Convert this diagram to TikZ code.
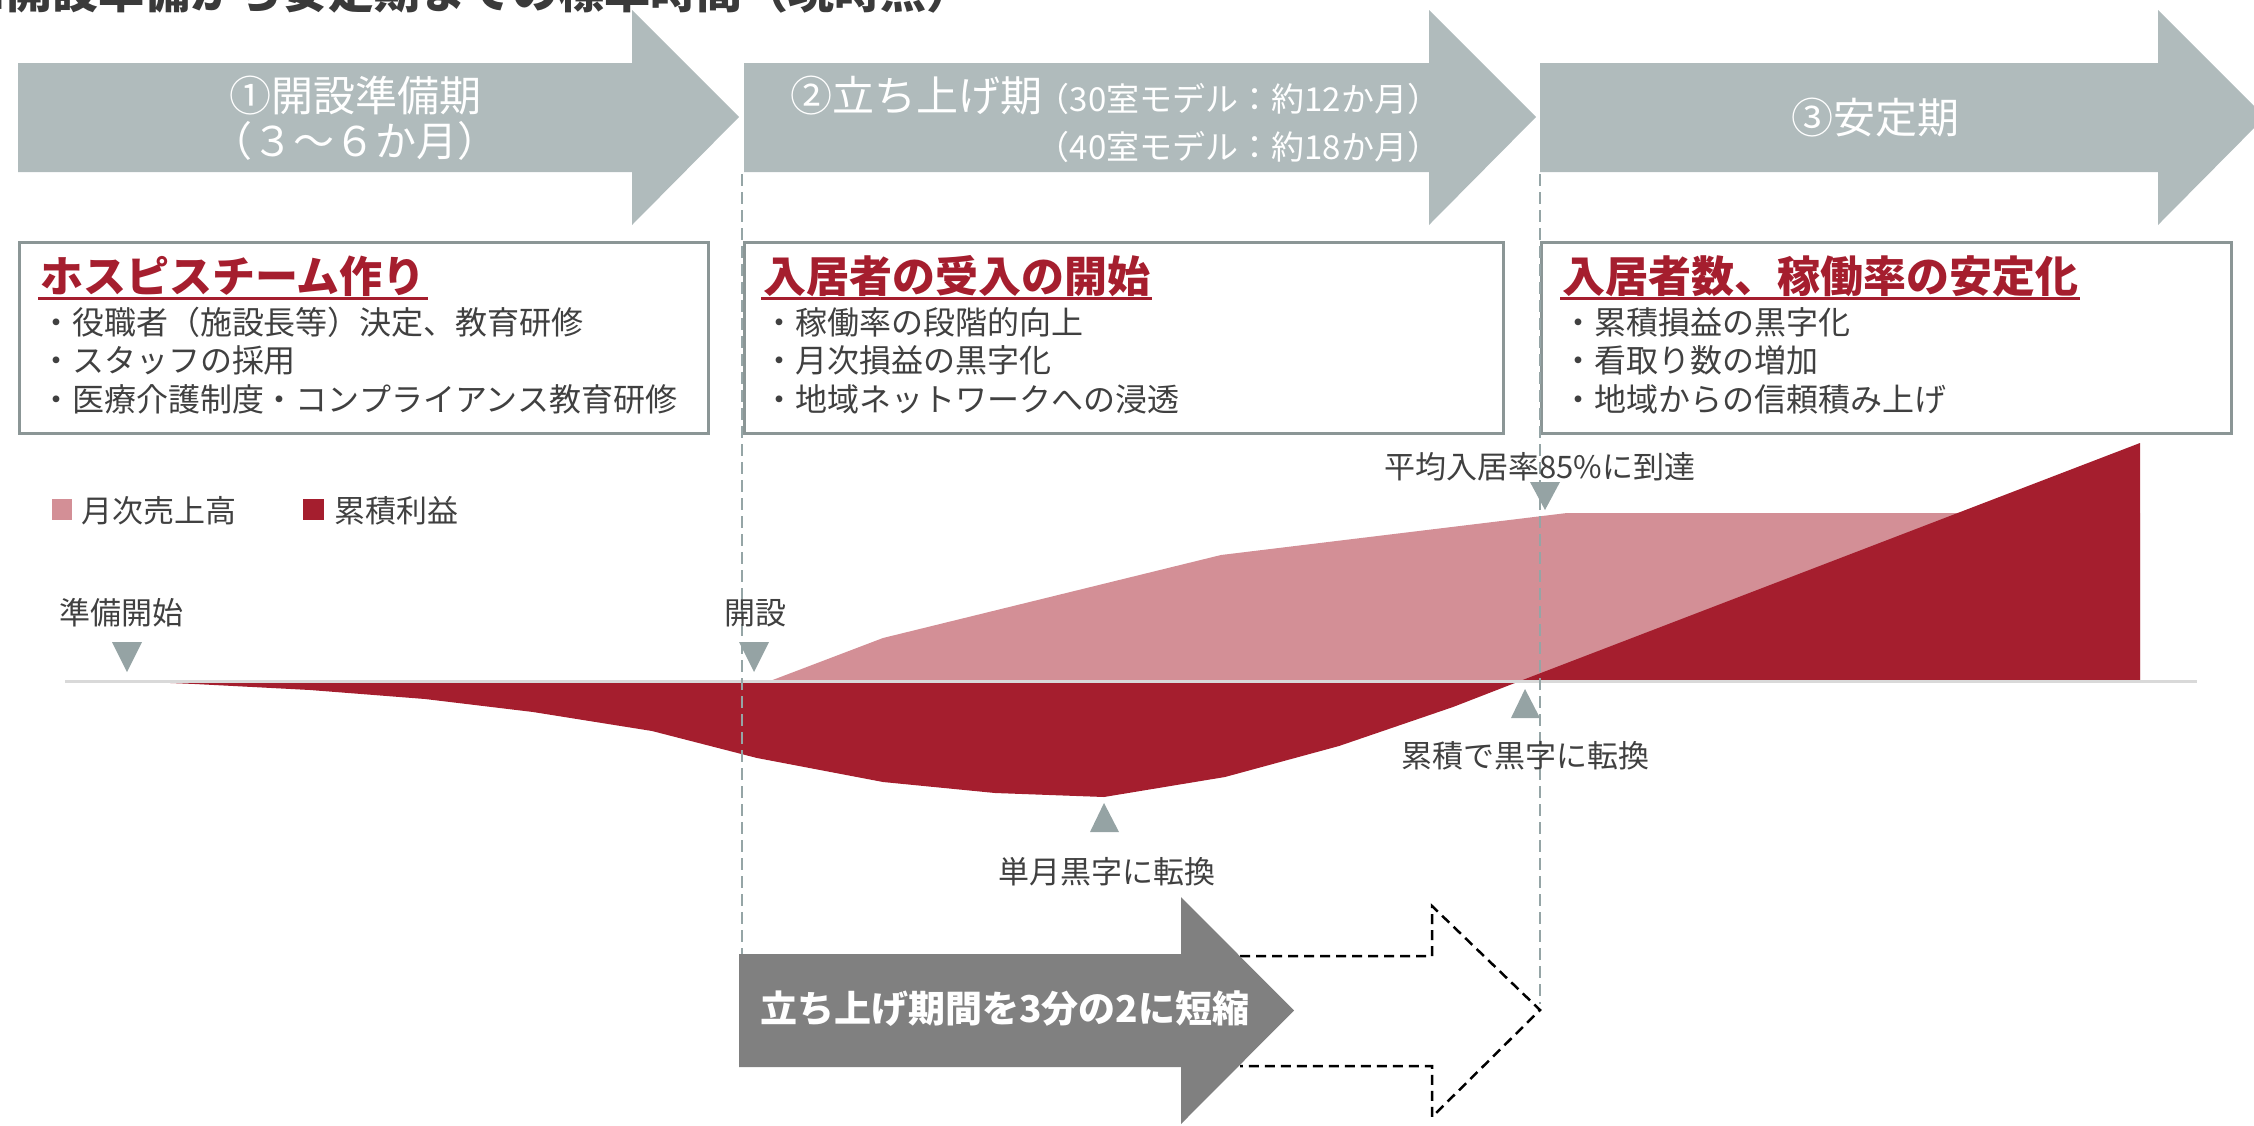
\documentclass[tikz,border=0pt]{standalone}
\usepackage{fontspec}
\setmainfont{Noto Sans CJK JP}
\usetikzlibrary{calc}
\definecolor{arrowgray}{RGB}{176,187,188}
\definecolor{boxborder}{RGB}{139,150,150}
\definecolor{accentred}{RGB}{165,30,46}
\definecolor{salespink}{RGB}{211,143,150}
\definecolor{trigray}{RGB}{149,163,164}
\definecolor{textgray}{RGB}{64,64,64}
\definecolor{titlegray}{RGB}{58,58,58}
\definecolor{darkarrow}{RGB}{128,128,128}
\definecolor{axisgray}{RGB}{217,217,217}
\definecolor{dashgray}{RGB}{149,165,166}
\begin{document}
\begin{tikzpicture}[x=1pt,y=-1pt,
  every node/.style={inner sep=0pt,outer sep=0pt},
  hdrbig/.style={text=white,font=\fontsize{42}{50}\selectfont},
  hdrsmall/.style={text=white,font=\fontsize{33}{40}\selectfont},
  boxtitle/.style={anchor=base west,text=accentred,font=\fontsize{43}{50}\selectfont\bfseries},
  itemtext/.style={anchor=base west,text=textgray,font=\fontsize{32}{38}\selectfont},
  labeltext/.style={anchor=base,text=textgray,font=\fontsize{31}{38}\selectfont},
  ulinestyle/.style={draw=accentred,line width=3pt},
  panel/.style={draw=boxborder,line width=3pt},
  marker/.style={fill=trigray},
  vdash/.style={draw=dashgray,line width=2pt,dash pattern=on 12pt off 6pt},
  outlinearrow/.style={draw=black,line width=2.5pt,dash pattern=on 10pt off 6pt,line join=miter}]
\useasboundingbox (0,0) rectangle (2254,1125);

% title (cut at top)
\node[anchor=base west,text=titlegray,font=\fontsize{46}{52}\selectfont\bfseries] (title) at (-39,8) {■開設準備から安定期までの標準時間（現時点）};

% phase arrows
\fill[arrowgray] (18,63) -- (632,63) -- (632,10) -- (739,117) -- (632,225) -- (632,172) -- (18,172) -- cycle;
\fill[arrowgray] (744,63) -- (1429,63) -- (1429,10) -- (1536,117) -- (1429,225) -- (1429,172) -- (744,172) -- cycle;
\fill[arrowgray] (1540,63) -- (2158,63) -- (2158,10) -- (2265,117) -- (2158,225) -- (2158,172) -- (1540,172) -- cycle;

\node[hdrbig,anchor=base] (p1a) at (355,111) {①開設準備期};
\node[hdrbig,anchor=base,font=\fontsize{41}{50}\selectfont] (p1b) at (355,156) {（３～６か月）};
\node[hdrbig,anchor=base west] (p2a) at (790,111) {②立ち上げ期};
\node[hdrsmall,anchor=base east] (p2b) at (1440,111) {（30室モデル：約12か月）};
\node[hdrsmall,anchor=base east] (p2c) at (1440,159) {（40室モデル：約18か月）};
\node[hdrbig,anchor=base] (p3a) at (1875,133) {③安定期};

% description boxes
\draw[panel] (19,242) rectangle (708,433);
\draw[panel] (744,242) rectangle (1503,433);
\draw[panel] (1541,242) rectangle (2231,433);

\node[boxtitle] (bt1) at (40,292) {ホスピスチーム作り};
\draw[ulinestyle] ($(bt1.base west)+(-2,6)$) -- ($(bt1.base east)+(2,6)$);
\node[itemtext] (b1a) at (40,334) {・役職者（施設長等）決定、教育研修};
\node[itemtext] (b1b) at (40,372) {・スタッフの採用};
\node[itemtext] (b1c) at (40,411) {・医療介護制度・コンプライアンス教育研修};

\node[boxtitle] (bt2) at (763,292) {入居者の受入の開始};
\draw[ulinestyle] ($(bt2.base west)+(-2,6)$) -- ($(bt2.base east)+(2,6)$);
\node[itemtext] (b2a) at (763,334) {・稼働率の段階的向上};
\node[itemtext] (b2b) at (763,372) {・月次損益の黒字化};
\node[itemtext] (b2c) at (763,411) {・地域ネットワークへの浸透};

\node[boxtitle] (bt3) at (1562,292) {入居者数、稼働率の安定化};
\draw[ulinestyle] ($(bt3.base west)+(-2,6)$) -- ($(bt3.base east)+(2,6)$);
\node[itemtext] (b3a) at (1562,334) {・累積損益の黒字化};
\node[itemtext] (b3b) at (1562,372) {・看取り数の増加};
\node[itemtext] (b3c) at (1562,411) {・地域からの信頼積み上げ};

% legend
\fill[salespink] (52,499) rectangle (72,520);
\node[labeltext,anchor=base west] (lg1) at (81,522) {月次売上高};
\fill[accentred] (303,499) rectangle (324,520);
\node[labeltext,anchor=base west] (lg2) at (334,522) {累積利益};

% chart areas
\fill[salespink] (770,681) -- (883,638) -- (1221,555) -- (1567,513) -- (2140,513) -- (2140,681) -- cycle;
\fill[accentred] (122,681) -- (195,684) -- (310,690) -- (425,699) -- (533,712) -- (652,731) -- (757,758) -- (883,782) -- (995,793) -- (1104,797) -- (1225,777) -- (1339,746) -- (1453,707) -- (1520,681) -- (2140,443) -- (2140,681) -- cycle;
\draw[axisgray,line width=3pt] (65,681) -- (2197,681);

% dashed guides
\draw[vdash] (742,174) -- (742,1000);
\draw[vdash] (1540,174) -- (1540,1004);

% markers and labels
\node[labeltext] (m1) at (121,624) {準備開始};
\fill[marker] (112,642) -- (142,642) -- (127,672) -- cycle;
\node[labeltext] (m2) at (755,624) {開設};
\fill[marker] (739,642) -- (769,642) -- (754,672) -- cycle;
\node[labeltext] (m3) at (1540,478) {平均入居率85\%に到達};
\fill[marker] (1530,482) -- (1560,482) -- (1545,510) -- cycle;
\node[labeltext] (m4) at (1525,767) {累積で黒字に転換};
\fill[marker] (1511,718) -- (1540,718) -- (1525,689) -- cycle;
\node[labeltext] (m5) at (1107,883) {単月黒字に転換};
\fill[marker] (1090,832) -- (1119,832) -- (1104,803) -- cycle;

% shortening arrows
\draw[outlinearrow] (1240,956) -- (1432,956) -- (1432,906) -- (1540,1010) -- (1432,1117) -- (1432,1066) -- (1240,1066);
\fill[darkarrow] (739,954) -- (1181,954) -- (1181,897) -- (1294,1010.5) -- (1181,1124) -- (1181,1067) -- (739,1067) -- cycle;
\node[anchor=base west,text=white,font=\fontsize{37}{44}\selectfont\bfseries] (short) at (760,1022) {立ち上げ期間を3分の2に短縮};
\end{tikzpicture}
\end{document}
